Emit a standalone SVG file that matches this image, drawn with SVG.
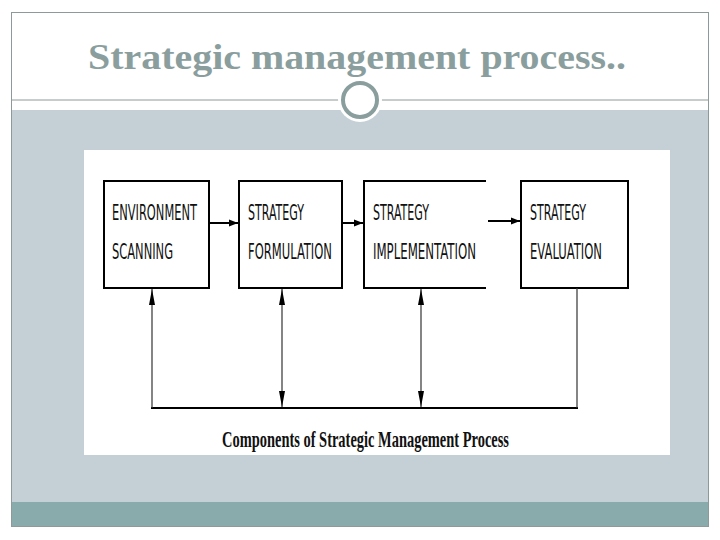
<svg xmlns="http://www.w3.org/2000/svg" width="720" height="540" viewBox="0 0 720 540">
<defs>
<marker id="ah" markerWidth="9" markerHeight="8" refX="9" refY="4" orient="auto-start-reverse" markerUnits="userSpaceOnUse">
<path d="M0,0.5 L9,4 L0,7.5 Z" fill="#000"/>
</marker>
<marker id="av" markerWidth="16" markerHeight="7" refX="16" refY="3.5" orient="auto-start-reverse" markerUnits="userSpaceOnUse">
<path d="M0,0.5 L16,3.5 L0,6.5 Z" fill="#000"/>
</marker>
<style>
.box{fill:#fff;stroke:#000;stroke-width:2}
.lbl{font-family:"DejaVu Sans Condensed","Liberation Sans",sans-serif;font-size:21px;fill:#111}
.fl{stroke:#000;stroke-width:2;fill:none}
.vl{stroke:#333;stroke-width:1.2;fill:none}
</style>
</defs>
<rect x="0" y="0" width="720" height="540" fill="#fff"/>
<rect x="11.5" y="12.5" width="697" height="514" fill="#fff" stroke="#8d9a9a" stroke-width="1"/>
<rect x="12" y="110" width="696" height="392" fill="#c5d0d6"/>
<rect x="12" y="502" width="696" height="24" fill="#8aabab"/>
<line x1="12" y1="100" x2="708" y2="100" stroke="#8d9a9a" stroke-width="1"/>
<circle cx="360" cy="100" r="22" fill="#fff"/>
<circle cx="360" cy="100" r="17" fill="#fff" stroke="#8a9e9e" stroke-width="4"/>
<text x="357" y="69" text-anchor="middle" font-family="'Liberation Serif',serif" font-weight="bold" font-size="36" fill="#8a9e9e" textLength="538" lengthAdjust="spacingAndGlyphs">Strategic management process..</text>
<rect x="84" y="150" width="586" height="305" fill="#fff"/>
<g id="n1"><rect class="box" x="104" y="181" width="105" height="107"/>
<text class="lbl" x="112" y="220" textLength="85" lengthAdjust="spacingAndGlyphs">ENVIRONMENT</text>
<text class="lbl" x="112" y="259" textLength="61" lengthAdjust="spacingAndGlyphs">SCANNING</text></g>
<g id="n2"><rect class="box" x="239" y="181" width="103" height="107"/>
<text class="lbl" x="248" y="220" textLength="56" lengthAdjust="spacingAndGlyphs">STRATEGY</text>
<text class="lbl" x="248" y="259" textLength="84" lengthAdjust="spacingAndGlyphs">FORMULATION</text></g>
<g id="n3"><path class="fl" d="M486,181 H364 V288 H486"/>
<text class="lbl" x="373" y="220" textLength="56" lengthAdjust="spacingAndGlyphs">STRATEGY</text>
<text class="lbl" x="373" y="259" textLength="103" lengthAdjust="spacingAndGlyphs">IMPLEMENTATION</text></g>
<g id="n4"><rect class="box" x="521" y="181" width="107" height="107"/>
<text class="lbl" x="530" y="220" textLength="56" lengthAdjust="spacingAndGlyphs">STRATEGY</text>
<text class="lbl" x="530" y="259" textLength="72" lengthAdjust="spacingAndGlyphs">EVALUATION</text></g>
<g id="connectors">
<line class="fl" x1="209" y1="223" x2="238" y2="223" marker-end="url(#ah)"/>
<line class="fl" x1="342" y1="223" x2="363" y2="223" marker-end="url(#ah)"/>
<line class="fl" x1="488" y1="221" x2="520" y2="221" marker-end="url(#ah)"/>
<line class="fl" x1="151" y1="408" x2="578" y2="408"/>
<line class="vl" x1="152" y1="408" x2="152" y2="289" marker-end="url(#av)"/>
<line class="vl" x1="282" y1="289" x2="282" y2="407" marker-start="url(#av)" marker-end="url(#av)"/>
<line class="vl" x1="421" y1="289" x2="421" y2="407" marker-start="url(#av)" marker-end="url(#av)"/>
<line class="vl" x1="577" y1="288" x2="577" y2="408"/>
</g>
<text x="222" y="447" font-family="'Liberation Serif',serif" font-weight="bold" font-size="24" fill="#111" textLength="287" lengthAdjust="spacingAndGlyphs">Components of Strategic Management Process</text>
</svg>
